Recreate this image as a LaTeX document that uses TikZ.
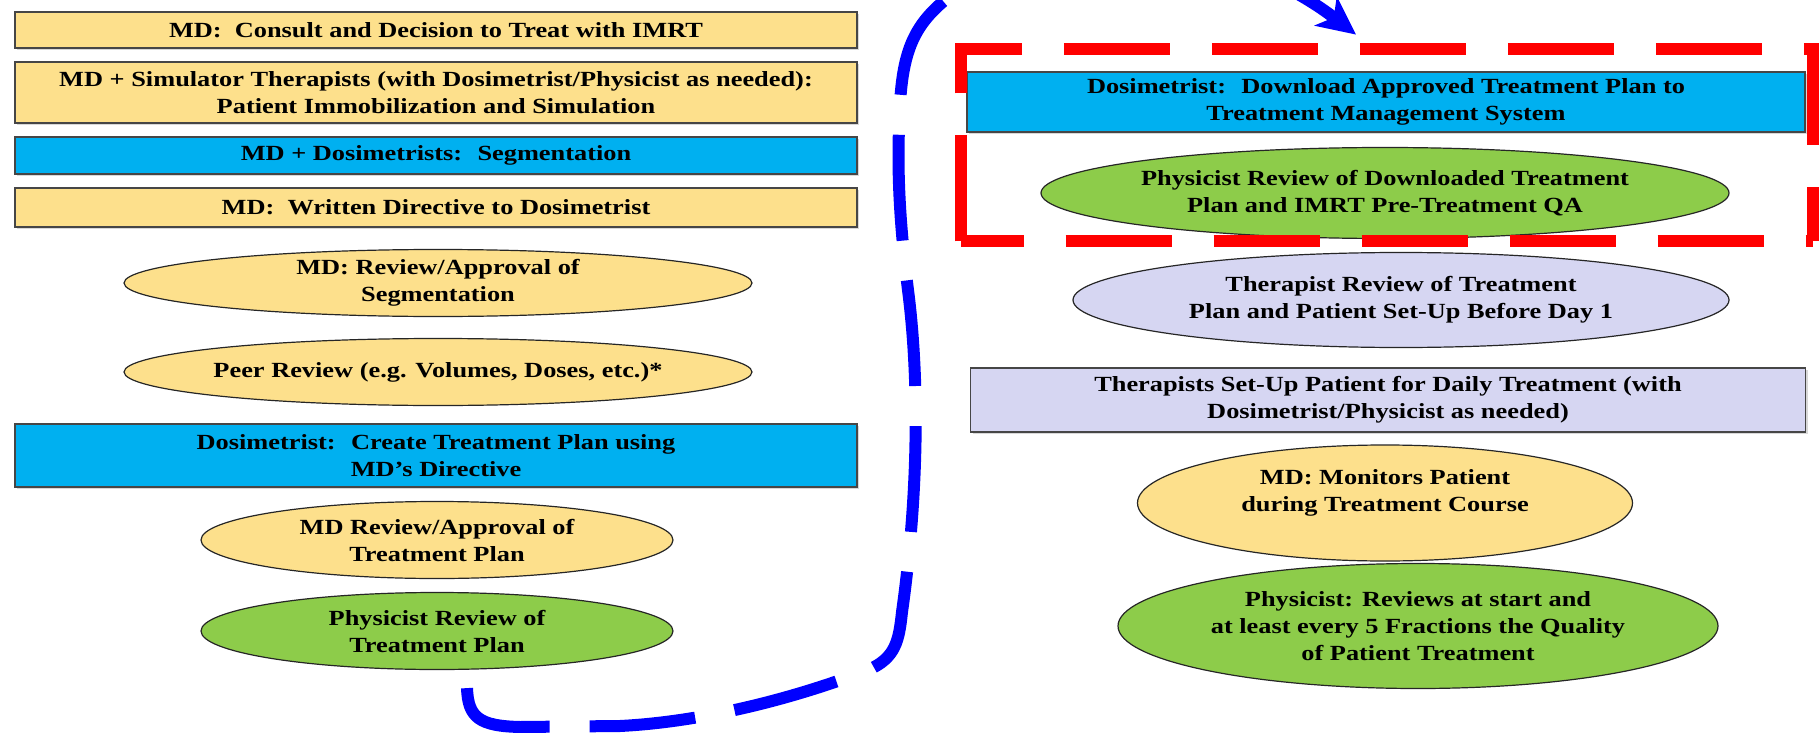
\documentclass[tikz,border=0pt]{standalone}
\usepackage{fontspec}
\setmainfont{Liberation Serif}[FakeStretch=1.22]
\usetikzlibrary{shapes.geometric,arrows.meta,shadows,calc}
\definecolor{ylw}{RGB}{253,224,140}
\definecolor{cyanb}{RGB}{0,176,240}
\definecolor{grn}{RGB}{141,204,74}
\definecolor{lav}{RGB}{214,214,242}
\definecolor{bordergray}{RGB}{70,70,70}
\definecolor{arrowblue}{RGB}{0,0,255}
\definecolor{dashred}{RGB}{255,0,0}
\newcommand{\txtfont}{\fontsize{10.8pt}{13.5pt}\selectfont\bfseries}
\begin{document}
\begin{tikzpicture}[x=0.5pt,y=-0.5pt,
  boxnode/.style={rectangle, draw=bordergray, line width=0.8pt, inner sep=0pt,
    font=\txtfont, align=center, text=black,
    drop shadow={shadow xshift=1pt, shadow yshift=-1pt, opacity=0.3}},
  leftbox/.style={boxnode, minimum width=421pt},
  oval/.style={ellipse, draw=black!85, line width=0.6pt, inner sep=0pt},
  txt/.style={font=\txtfont, align=center, inner sep=0pt, text=black},
  bluedash/.style={draw=arrowblue, line width=6pt, dash pattern=on 53pt off 20pt},
  reddash/.style={draw=dashred, line width=6pt, dash pattern=on 53pt off 21pt}]
\useasboundingbox (0,0) rectangle (1820,733);
\fill[white] (0,0) rectangle (1820,733);

% left column
\node[leftbox, fill=ylw, minimum height=18pt] (b1) at (436,30) {MD:~ Consult and Decision to Treat with IMRT};
\node[leftbox, fill=ylw, minimum height=30.5pt] (b2) at (436,92.5) {MD + Simulator Therapists (with Dosimetrist/Physicist as needed):\\Patient Immobilization and Simulation};
\node[leftbox, fill=cyanb, minimum height=18.5pt] (b3) at (436,155.5) {MD + Dosimetrists:~ Segmentation};
\node[leftbox, fill=ylw, minimum height=19.5pt] (b4) at (436,207.5) {MD:~ Written Directive to Dosimetrist};

\node[oval, fill=ylw, minimum width=314pt, minimum height=33.5pt] (le1) at (438,283) {};
\node[txt] (le1t) at (le1.center) {MD: Review/Approval of\\Segmentation};
\node[oval, fill=ylw, minimum width=314pt, minimum height=33.5pt] (le2) at (438,372) {};
\node[txt] (le2t) at (le2.center) {Peer Review (e.g. Volumes, Doses, etc.)*};

\node[leftbox, fill=cyanb, minimum height=31.5pt] (b5) at (436,455.5) {Dosimetrist:~ Create Treatment Plan using\\MD's Directive};

\node[oval, fill=ylw, minimum width=236pt, minimum height=38.5pt] (le3) at (437,540) {};
\node[txt] (le3t) at (le3.center) {MD Review/Approval of\\Treatment Plan};
\node[oval, fill=grn, minimum width=236pt, minimum height=38.5pt] (le4) at (437,631) {};
\node[txt] (le4t) at (le4.center) {Physicist Review of\\Treatment Plan};

% right column
\node[boxnode, fill=cyanb, minimum width=419pt, minimum height=30pt] (rb1) at (1386,102) {Dosimetrist:~ Download Approved Treatment Plan to\\Treatment Management System};
\node[oval, fill=grn, minimum width=344pt, minimum height=45.5pt] (re1) at (1385,193) {};
\node[txt] (re1t) at (re1.center) {Physicist Review of Downloaded Treatment\\Plan and IMRT Pre-Treatment QA};
\node[oval, fill=lav, minimum width=328pt, minimum height=47.5pt] (re2) at (1401,300) {};
\node[txt] (re2t) at (re2.center) {Therapist Review of Treatment\\Plan and Patient Set-Up Before Day 1};
\node[boxnode, fill=lav, minimum width=417.5pt, minimum height=32pt] (rb2) at (1388,400) {Therapists Set-Up Patient for Daily Treatment (with\\Dosimetrist/Physicist as needed)};
\node[oval, fill=ylw, minimum width=247.5pt, minimum height=58pt] (re3) at (1385,503) {};
\node[txt] (re3t) at ($(re3.center)+(0,-10)$) {MD: Monitors Patient\\during Treatment Course};
\node[oval, fill=grn, minimum width=300pt, minimum height=62.5pt] (re4) at (1418,626) {};
\node[txt] (re4t) at (re4.center) {Physicist: Reviews at start and\\at least every 5 Fractions the Quality\\of Patient Treatment};

% red dashed frame
\node[rectangle, inner sep=0pt, minimum width=426pt, minimum height=96pt] (redbox) at (1387,145) {};
\draw[reddash] (redbox.south west) -- (redbox.north west) -- (redbox.north east) -- (redbox.south east);
\draw[reddash, dash phase=21.5pt] (redbox.south west) -- (redbox.south east);

% blue dashed arrow
\coordinate (start) at ($(le4.south)+(30,18)$);
\coordinate (tip) at ($(redbox.north)+(-31,-14)$);
\draw[bluedash, -{Stealth[length=19pt,width=18pt,inset=5pt]}]
  (start) .. controls (468,718) and (480,726) .. (520,727)
  -- (620,726) .. controls (700,722) and (790,700) .. (868,670)
  .. controls (896,658) and (899,640) .. (902,612)
  .. controls (915,520) and (922,400) .. (908,290)
  .. controls (898,210) and (897,160) .. (900,104)
  .. controls (903,50) and (915,25) .. (945,0)
  .. controls (1050,-100) and (1240,-55) .. (tip);
\end{tikzpicture}
\end{document}
